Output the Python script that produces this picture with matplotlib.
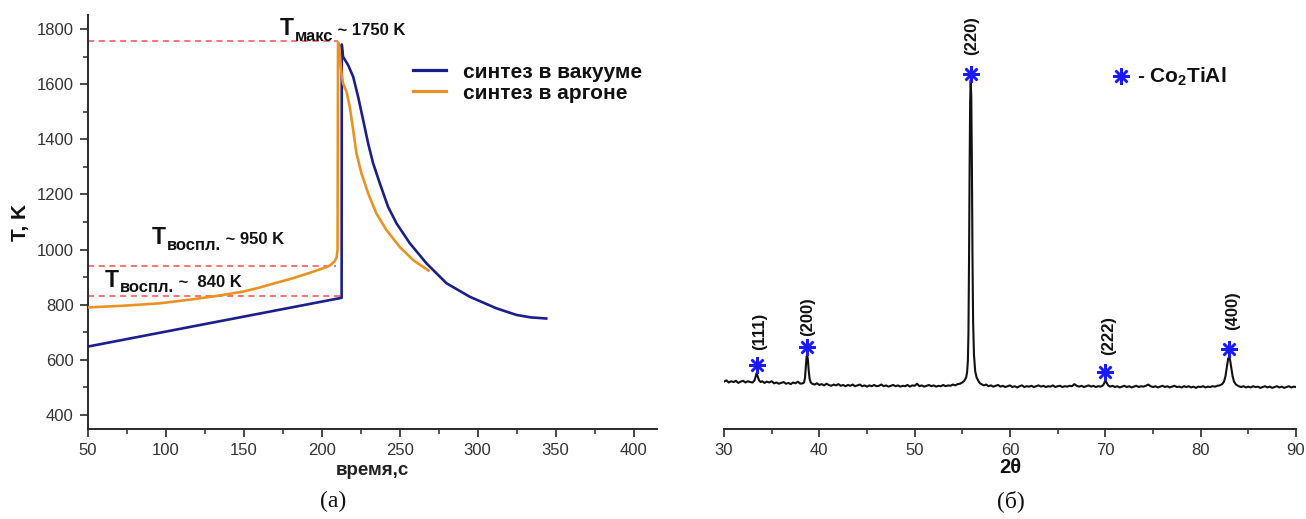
import matplotlib
matplotlib.use('Agg')
import matplotlib.pyplot as plt
from matplotlib.ticker import MultipleLocator

plt.rcParams['font.family'] = ['Liberation Sans', 'DejaVu Sans']
plt.rcParams['mathtext.fontset'] = 'custom'
plt.rcParams['mathtext.rm'] = 'Liberation Sans'
plt.rcParams['mathtext.bf'] = 'Liberation Sans:bold'
plt.rcParams['mathtext.it'] = 'Liberation Sans:italic'

# ---------------- panel (а): temperature vs time ----------------
vac_time = [50, 212.8, 212.9, 213.7, 217, 220.2, 223.4, 226.6, 229.8, 233,
            237.3, 242.6, 248, 256.5, 267.2, 280, 294.9, 312, 324.8, 334, 344]
vac_temp = [648, 825, 1744, 1700, 1669, 1627, 1554, 1470, 1385, 1313,
            1240, 1155, 1095, 1023, 950, 878, 829, 787, 763, 754, 750]

arg_time = [50, 75, 96, 115, 133, 150, 160, 170, 181, 192, 203, 205.2, 208.4,
            209.6, 210.2, 210.5, 211.2, 212.5, 213.7, 215.9, 218, 220.2, 222.3,
            225.5, 229.8, 235.1, 241.5, 250, 258.6, 268.5]
arg_temp = [790, 797, 805, 818, 832, 848, 862, 878, 895, 915, 936, 942, 958,
            972, 1000, 1752, 1740, 1650, 1603, 1573, 1518, 1434, 1349,
            1277, 1204, 1131, 1071, 1010, 962, 924]

ref_temp = [1755, 940, 832]          # red dashed guide levels
ref_end = [210.5, 209.5, 212.6]      # where each guide stops (s)

series_labels = ['синтез в вакууме', 'синтез в аргоне']
a_xticks = [50, 100, 150, 200, 250, 300, 350, 400]
a_yticks = [400, 600, 800, 1000, 1200, 1400, 1600, 1800]

# ---------------- panel (б): XRD pattern ----------------
xrd_bg1 = [(30.0, 115), (30.25, 118), (30.5, 113), (30.75, 116), (31.0, 114),
           (31.25, 117), (31.5, 112), (31.75, 115), (32.0, 117), (32.25, 113),
           (32.5, 116), (32.75, 114), (33.0, 113)]
xrd_p111 = [(33.2, 118), (33.33, 128), (33.43, 136), (33.53, 128), (33.68, 118),
            (33.85, 114)]
xrd_bg2 = [(34.0, 116), (34.25, 112), (34.5, 115), (34.75, 113), (35.0, 116),
           (35.25, 111), (35.5, 113), (35.75, 110), (36.0, 112), (36.25, 114),
           (36.5, 110), (36.75, 112), (37.0, 109), (37.25, 113), (37.5, 111),
           (37.75, 115), (38.0, 110), (38.25, 111)]
xrd_p200 = [(38.4, 113), (38.5, 125), (38.58, 150), (38.66, 175), (38.72, 180),
            (38.8, 168), (38.88, 143), (38.98, 122), (39.1, 113), (39.25, 110)]
xrd_bg3 = [(39.5, 108), (39.75, 111), (40.0, 107), (40.25, 109), (40.5, 106),
           (40.75, 110), (41.0, 107), (41.25, 105), (41.5, 108), (41.75, 106),
           (42.0, 109), (42.25, 105), (42.5, 107), (42.75, 104), (43.0, 107),
           (43.25, 105), (43.5, 108), (43.75, 104), (44.0, 106), (44.25, 108),
           (44.5, 104), (44.75, 106), (45.0, 103), (45.25, 106), (45.5, 104),
           (45.75, 107), (46.0, 104), (46.25, 105), (46.5, 108), (46.75, 104),
           (47.0, 106), (47.25, 103), (47.5, 105), (47.75, 107), (48.0, 104),
           (48.25, 106), (48.5, 103), (48.75, 105), (49.0, 104), (49.25, 107),
           (49.5, 103), (49.75, 106), (50.0, 105), (50.25, 110), (50.5, 104),
           (50.75, 106), (51.0, 103), (51.25, 105), (51.5, 107), (51.75, 104),
           (52.0, 106), (52.25, 103), (52.5, 105), (52.75, 104), (53.0, 107),
           (53.25, 104), (53.5, 106), (53.75, 105), (54.0, 108), (54.25, 106),
           (54.5, 109), (54.75, 110), (55.0, 113), (55.2, 117)]
xrd_p220 = [(55.4, 125), (55.5, 138), (55.58, 165), (55.64, 230), (55.7, 400),
            (55.76, 620), (55.82, 790), (55.88, 843), (55.94, 800), (56.0, 650),
            (56.06, 430), (56.13, 260), (56.22, 180), (56.35, 140), (56.5, 125),
            (56.7, 116), (56.85, 111)]
xrd_bg4 = [(57.0, 109), (57.25, 106), (57.5, 108), (57.75, 104), (58.0, 106),
           (58.25, 103), (58.5, 105), (58.75, 107), (59.0, 103), (59.25, 105),
           (59.5, 102), (59.75, 104), (60.0, 106), (60.25, 102), (60.5, 104),
           (60.75, 101), (61.0, 104), (61.25, 106), (61.5, 102), (61.75, 104),
           (62.0, 103), (62.25, 105), (62.5, 102), (62.75, 104), (63.0, 106),
           (63.25, 103), (63.5, 105), (63.75, 102), (64.0, 104), (64.25, 103),
           (64.5, 106), (64.75, 102), (65.0, 104), (65.25, 105), (65.5, 102),
           (65.75, 104), (66.0, 103), (66.25, 105), (66.5, 104), (66.75, 109),
           (67.0, 105), (67.25, 103), (67.5, 105), (67.75, 102), (68.0, 104),
           (68.25, 106), (68.5, 103), (68.75, 105), (69.0, 102), (69.25, 104),
           (69.5, 103), (69.75, 106)]
xrd_p222 = [(69.88, 111), (70.0, 119), (70.12, 113), (70.3, 106)]
xrd_bg5 = [(70.5, 103), (70.75, 105), (71.0, 102), (71.25, 104), (71.5, 101),
           (71.75, 103), (72.0, 105), (72.25, 102), (72.5, 104), (72.75, 101),
           (73.0, 103), (73.25, 105), (73.5, 102), (73.75, 104), (74.0, 103),
           (74.25, 105), (74.5, 108), (74.75, 104), (75.0, 102), (75.25, 104),
           (75.5, 101), (75.75, 103), (76.0, 105), (76.25, 102), (76.5, 104),
           (76.75, 101), (77.0, 103), (77.25, 105), (77.5, 102), (77.75, 103),
           (78.0, 101), (78.25, 104), (78.5, 102), (78.75, 104), (79.0, 101),
           (79.25, 103), (79.5, 100), (79.75, 103), (80.0, 102), (80.25, 104),
           (80.5, 101), (80.75, 103), (81.0, 102), (81.25, 104), (81.5, 103),
           (81.75, 105), (82.0, 106), (82.25, 109)]
xrd_p400 = [(82.45, 115), (82.6, 128), (82.75, 150), (82.88, 170), (82.98, 175),
            (83.08, 168), (83.2, 150), (83.35, 128), (83.5, 115), (83.7, 108)]
xrd_bg6 = [(84.0, 104), (84.25, 102), (84.5, 104), (84.75, 101), (85.0, 103),
           (85.25, 101), (85.5, 104), (85.75, 102), (86.0, 103), (86.25, 100),
           (86.5, 102), (86.75, 104), (87.0, 101), (87.25, 103), (87.5, 100),
           (87.75, 102), (88.0, 104), (88.25, 101), (88.5, 103), (88.75, 100),
           (89.0, 102), (89.25, 104), (89.5, 101), (89.75, 103), (90.0, 102)]

peak_pos = [33.43, 38.7, 55.88, 70.0, 83.0]
star_level = [155, 198, 858, 138, 194]
hkl_labels = ['(111)', '(200)', '(220)', '(222)', '(400)']
hkl_x = [33.7, 38.75, 55.95, 70.3, 83.35]
hkl_bottom = [191, 224, 903, 179, 240]
b_xticks = [30, 40, 50, 60, 70, 80, 90]

# ---------------- figure ----------------
W, H = 1306, 519
fig = plt.figure(figsize=(W / 100, H / 100), dpi=100)
fig.patch.set_facecolor('white')

NAVY = '#1b1f8c'
ORANGE = '#ea9221'
RED = '#ff4a4a'
AX_C = '#2a2a2a'
TICK_C = '#333333'

bottom = (H - 429.3) / H
height = 414.3 / H

# ---- panel (а)
ax1 = fig.add_axes([87.7 / W, bottom, 569.3 / W, height])
for y, xe in zip(ref_temp, ref_end):
    ax1.plot([50, xe], [y, y], color=RED, lw=1.1, dashes=(4, 3), zorder=2)
ax1.plot(vac_time, vac_temp, color=NAVY, lw=1.9, label=series_labels[0], zorder=3,
         solid_joinstyle='round')
ax1.plot(arg_time, arg_temp, color=ORANGE, lw=1.9, label=series_labels[1], zorder=4,
         solid_joinstyle='round')

ax1.set_xlim(50, 415)
ax1.set_ylim(348, 1851)
ax1.set_xticks(a_xticks)
ax1.set_yticks(a_yticks)
ax1.xaxis.set_minor_locator(MultipleLocator(25))
ax1.yaxis.set_minor_locator(MultipleLocator(100))
for s in ['top', 'right']:
    ax1.spines[s].set_visible(False)
for s in ['left', 'bottom']:
    ax1.spines[s].set_color(AX_C)
    ax1.spines[s].set_linewidth(1.4)
ax1.tick_params(which='major', direction='out', length=6, width=1.2, color=AX_C,
                labelsize=12, labelcolor=TICK_C, pad=4)
ax1.tick_params(which='minor', direction='out', length=3.5, width=1.1, color=AX_C)
ax1.set_xlabel('время,с', fontsize=13.5, fontweight='bold', color='#222', labelpad=3)
ax1.set_ylabel('T, K', fontsize=15, fontweight='bold', color='#111', labelpad=5)

leg = ax1.legend(loc='upper left', bbox_to_anchor=(0.571, 0.885), frameon=False,
                 prop={'weight': 'bold', 'size': 15}, handlelength=1.6,
                 handletextpad=0.8, labelspacing=0.1, borderpad=0, borderaxespad=0)
for line in leg.get_lines():
    line.set_linewidth(2.3)
for t in leg.get_texts():
    t.set_color('#111')


def t_label(ax, x, y, sub, rest):
    t1 = ax.text(x, y, 'T', fontsize=16.5, fontweight='bold', color='#111',
                 ha='left', va='baseline')
    t2 = ax.annotate(sub, xy=(1, y), xycoords=(t1, 'data'), xytext=(0.5, -4),
                     textcoords='offset points', fontsize=12, fontweight='bold',
                     color='#111', ha='left', va='baseline')
    ax.annotate(rest, xy=(1, y), xycoords=(t2, 'data'), xytext=(0, 0),
                textcoords='offset points', fontsize=12, fontweight='bold',
                color='#111', ha='left', va='baseline')


t_label(ax1, 173.2, 1778, 'макс', ' ~ 1750 K')
t_label(ax1, 91.2, 1020, 'воспл.', ' ~ 950 K')
t_label(ax1, 61.1, 865, 'воспл.', ' ~  840 K')

# ---- panel (б)
ax2 = fig.add_axes([724 / W, bottom, 572 / W, height])
xrd_all = sorted(xrd_bg1 + xrd_p111 + xrd_bg2 + xrd_p200 + xrd_bg3 + xrd_p220 +
                 xrd_bg4 + xrd_p222 + xrd_bg5 + xrd_p400 + xrd_bg6)
two_theta = [p[0] for p in xrd_all]
intensity = [p[1] for p in xrd_all]
ax2.plot(two_theta, intensity, color='#111', lw=1.5, zorder=3)
ax2.plot(peak_pos, star_level, ls='none', marker=(8, 2, 0), markersize=12,
         markeredgewidth=1.8, color='#1a1aff', zorder=4, label='- Co$_{\\mathbf{2}}$TiAl')
for x, yb, lab in zip(hkl_x, hkl_bottom, hkl_labels):
    ax2.text(x, yb, lab, rotation=90, ha='center', va='bottom', fontsize=12,
             fontweight='bold', color='#111')

ax2.set_xlim(30, 90)
ax2.set_ylim(0, 1000)
ax2.set_xticks(b_xticks)
ax2.set_yticks([])
ax2.xaxis.set_minor_locator(MultipleLocator(5))
for s in ['top', 'right', 'left']:
    ax2.spines[s].set_visible(False)
ax2.spines['bottom'].set_color(AX_C)
ax2.spines['bottom'].set_linewidth(1.4)
ax2.tick_params(which='major', direction='out', length=6, width=1.2, color=AX_C,
                labelsize=12, labelcolor=TICK_C, pad=4)
ax2.tick_params(which='minor', direction='out', length=3.5, width=1.1, color=AX_C)
ax2.set_xlabel('2θ', fontsize=14.5, fontweight='bold', color='#111', labelpad=0)

leg2 = ax2.legend(loc='center left', bbox_to_anchor=(0.678, 0.850), frameon=False,
                  prop={'weight': 'bold', 'size': 15}, handlelength=0.9,
                  handletextpad=0.3, borderpad=0, borderaxespad=0, numpoints=1)
for t in leg2.get_texts():
    t.set_color('#111')

# panel captions
fig.text(333 / W, 1 - 501 / H, '(а)', family='Liberation Serif', fontsize=17,
         ha='center', va='center', color='#111')
fig.text(1011 / W, 1 - 501 / H, '(б)', family='Liberation Serif', fontsize=17,
         ha='center', va='center', color='#111')

fig.savefig('out.png', dpi=100, facecolor='white')
